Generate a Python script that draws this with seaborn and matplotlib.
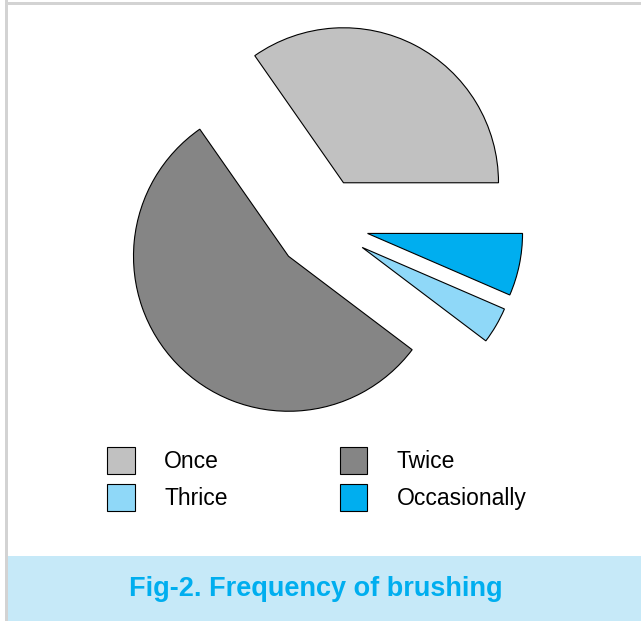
import matplotlib
matplotlib.use('Agg')
import matplotlib.pyplot as plt
from matplotlib.patches import Rectangle
import seaborn as sns

# Data (percent of respondents)
labels = ['Once', 'Twice', 'Thrice', 'Occasionally']
shares = [34.7, 55.0, 3.8, 6.5]
colors = ['#c1c1c1', '#858585', '#8fd8f8', '#00aeef']
title = 'Fig-2. Frequency of brushing'

sns.set_theme(style='white')
plt.rcParams['font.family'] = ['Liberation Sans', 'DejaVu Sans']
plt.rcParams['text.color'] = 'black'

W, H = 641, 621
fig = plt.figure(figsize=(W / 100, H / 100), dpi=100)
fig.patch.set_facecolor('white')

# frame lines on top and left, light blue caption band at the bottom
fig.patches.append(Rectangle((5 / W, 0), 2.5 / W, 1, transform=fig.transFigure,
                             facecolor='#d3d3d3', edgecolor='none', zorder=0))
fig.patches.append(Rectangle((5 / W, 1 - 5 / H), 1, 3 / H, transform=fig.transFigure,
                             facecolor='#d3d3d3', edgecolor='none', zorder=0))
fig.patches.append(Rectangle((7.5 / W, 0), 1, 65 / H, transform=fig.transFigure,
                             facecolor='#c6e9f8', edgecolor='none', zorder=0))

# pie centre at (322, 224) px, radius 155 px
cx, cy, r = 322, 224, 155
ax = fig.add_axes([0, 0, 1, 1])
wedges, _ = ax.pie(shares, colors=colors, startangle=0, counterclock=True,
                   explode=[0.3] * len(shares),
                   wedgeprops=dict(edgecolor='black', linewidth=0.8))
ax.set_xlim(-cx / r, (W - cx) / r)
ax.set_ylim(-(H - cy) / r, cy / r)
ax.set_aspect('auto')
ax.axis('off')
ax.patch.set_alpha(0)

# legend fills column by column: Once/Thrice left, Twice/Occasionally right
order = [0, 2, 1, 3]
leg = fig.legend([wedges[i] for i in order], [labels[i] for i in order],
                 ncol=2, loc='upper left',
                 bbox_to_anchor=(107 / W, 1 - 447 / H), frameon=False,
                 fontsize=16.5, handlelength=1.2, handleheight=1.45,
                 handletextpad=1.3, columnspacing=4.88, labelspacing=0.42,
                 borderpad=0, borderaxespad=0, labelcolor='black')
for h in leg.legend_handles:
    h.set_edgecolor('black')
    h.set_linewidth(0.8)

fig.text(316 / W, 1 - 589 / H, title, ha='center', va='center',
         fontsize=19.5, fontweight='bold', color='#00aeef')

fig.savefig('out.png', dpi=100)
